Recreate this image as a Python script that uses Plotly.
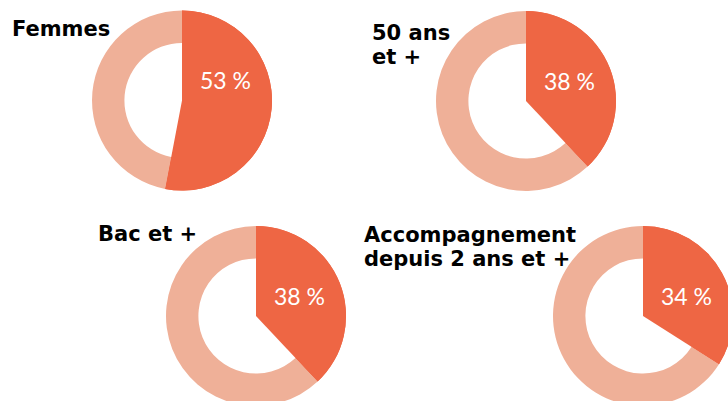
import plotly.graph_objects as go

# ---- data ----
titles = [["Femmes"], ["50 ans", "et +"], ["Bac et +"], ["Accompagnement", "depuis 2 ans et +"]]
shares = [53, 38, 38, 34]
labels_txt = ["53 %", "38 %", "38 %", "34 %"]

# ---- layout / style ----
W, H = 740, 410
R = 90
centers = [(182, 100.5), (526, 101), (256, 316), (643, 316)]
title_pos = [(10, 29), (370, 33), (96, 234), (362, 235)]
LINE_GAP = 24
DARK = "#EE6644"
LIGHT = "#EFB098"

fig = go.Figure()
annotations = []
for i, (cx, cy) in enumerate(centers):
    dom = dict(x=[(cx - R) / W, (cx + R) / W], y=[1 - (cy + R) / H, 1 - (cy - R) / H])
    v = shares[i]
    # ring
    fig.add_trace(go.Pie(values=[v, 100 - v], labels=["oui", "autres"], hole=0.64,
                         sort=False, direction="clockwise", rotation=0,
                         marker=dict(colors=[DARK, LIGHT], line=dict(width=0)),
                         textinfo="none", hoverinfo="skip", domain=dom, showlegend=False))
    # full wedge for the highlighted share
    fig.add_trace(go.Pie(values=[v, 100 - v], labels=["oui", "autres"], hole=0,
                         sort=False, direction="clockwise", rotation=0,
                         marker=dict(colors=[DARK, "rgba(0,0,0,0)"], line=dict(width=0)),
                         textinfo="none", hoverinfo="skip", domain=dom, showlegend=False))
    annotations.append(dict(text=labels_txt[i], x=(cx + 43) / W, y=1 - (cy - 20) / H,
                            xref="paper", yref="paper", showarrow=False,
                            xanchor="center", yanchor="middle",
                            font=dict(family="Lato", size=23, color="white")))
    tx, ty = title_pos[i]
    for k, line in enumerate(titles[i]):
        annotations.append(dict(text="<b>" + line + "</b>", x=tx / W, y=1 - (ty + k * LINE_GAP) / H,
                                xref="paper", yref="paper", showarrow=False, align="left",
                                xanchor="left", yanchor="middle",
                                font=dict(family="DejaVu Sans", size=21, color="black")))

fig.update_layout(width=W, height=H, margin=dict(l=0, r=0, t=0, b=0),
                  paper_bgcolor="white", plot_bgcolor="white",
                  annotations=annotations)

fig.write_html("out.html", config={"displayModeBar": False},
               post_script="document.body.style.margin='0';document.body.style.overflow='hidden';document.documentElement.style.overflow='hidden';")
